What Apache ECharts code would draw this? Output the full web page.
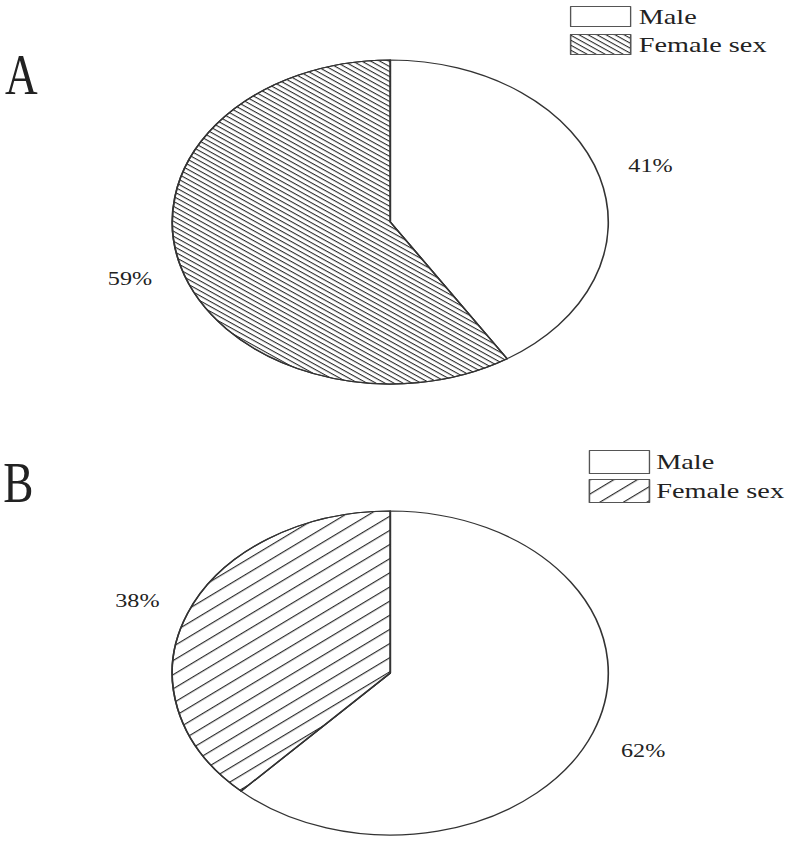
<!DOCTYPE html>
<html>
<head>
<meta charset="utf-8">
<script src="https://cdn.jsdelivr.net/npm/echarts@6/dist/echarts.min.js"></script>
<style>
html,body{margin:0;padding:0;background:#fff;overflow:hidden;}
#c{width:590px;height:848px;transform:scaleX(1.34576);transform-origin:0 0;}
</style>
</head>
<body>
<div id="c"></div>
<script>
// ---- data ----
const categories = ['Male', 'Female sex'];
const panelA = [41, 59];
const panelB = [62, 38];
const panelLabels = ['A', 'B'];

// ---- styles ----
const decalA = {symbol:'rect', symbolSize:1, dashArrayX:[1,0], dashArrayY:[1,3], rotation:0.64, color:'#2a2a2a', backgroundColor:'#fff'};
const decalB = {symbol:'rect', symbolSize:1, dashArrayX:[1,0], dashArrayY:[1,10], rotation:-0.68, color:'#2a2a2a', backgroundColor:'#fff'};
const labelFont = {fontFamily:'Liberation Serif', fontSize:18, color:'#222'};
// per-slice vertical label nudges (style only)
const labelNudges = [[-6, 7], [12, -6]];

function buildData(values, decal) {
  return values.map((v, i) => ({
    name: categories[i],
    value: v,
    itemStyle: i === 1 ? {color:'#fff', decal: decal} : {color:'#fff'}
  }));
}

function makeLegend(idx, left, top, h, gap, decal, pad) {
  return {
    id: 'lg' + idx,
    orient: 'vertical',
    left: left, top: top,
    itemWidth: 44.6, itemHeight: h, itemGap: gap,
    icon: 'rect',
    textStyle: {fontFamily:'Liberation Serif', fontSize:21, color:'#222', padding:[0,0,0,pad]},
    data: categories.map((c, i) => ({
      name: c,
      itemStyle: i === 1 ? {color:'#fff', decal: decal, borderColor:'#555', borderWidth:1}
                         : {color:'#fff', borderColor:'#555', borderWidth:1}
    })),
    selectedMode: false
  };
}

function makePie(values, center, decal, len, nudges) {
  return {
    type: 'pie',
    center: center,
    radius: 162,
    startAngle: 90,
    clockwise: true,
    avoidLabelOverlap: false,
    silent: true,
    itemStyle: {borderColor:'#333', borderWidth:1.2},
    label: Object.assign({show:true, position:'outside', formatter:'{c}%'}, labelFont),
    labelLine: {show:false, length:len, length2:0},
    labelLayout: function (p) { return {dy: nudges[p.dataIndex]}; },
    data: buildData(values, decal)
  };
}

const chart = echarts.init(document.getElementById('c'), null, {renderer:'svg'});
chart.setOption({
  animation: false,
  backgroundColor: '#fff',
  legend: [
    makeLegend(0, 418.5, 1, 20, 7, decalA, 1),
    makeLegend(1, 432.5, 445, 23, 5, decalB, 0)
  ],
  graphic: [
    {type:'text', x:3.7, y:47, scaleX:0.6, style:{text:panelLabels[0], font:'56px "Liberation Serif"', fill:'#222', textVerticalAlign:'top'}},
    {type:'text', x:2.5, y:455, scaleX:0.6, style:{text:panelLabels[1], font:'56px "Liberation Serif"', fill:'#222', textVerticalAlign:'top'}}
  ],
  series: [
    makePie(panelA, [290, 222], decalA, 17, labelNudges[0]),
    makePie(panelB, [290, 673], decalB, 17, labelNudges[1])
  ]
});
</script>
</body>
</html>
